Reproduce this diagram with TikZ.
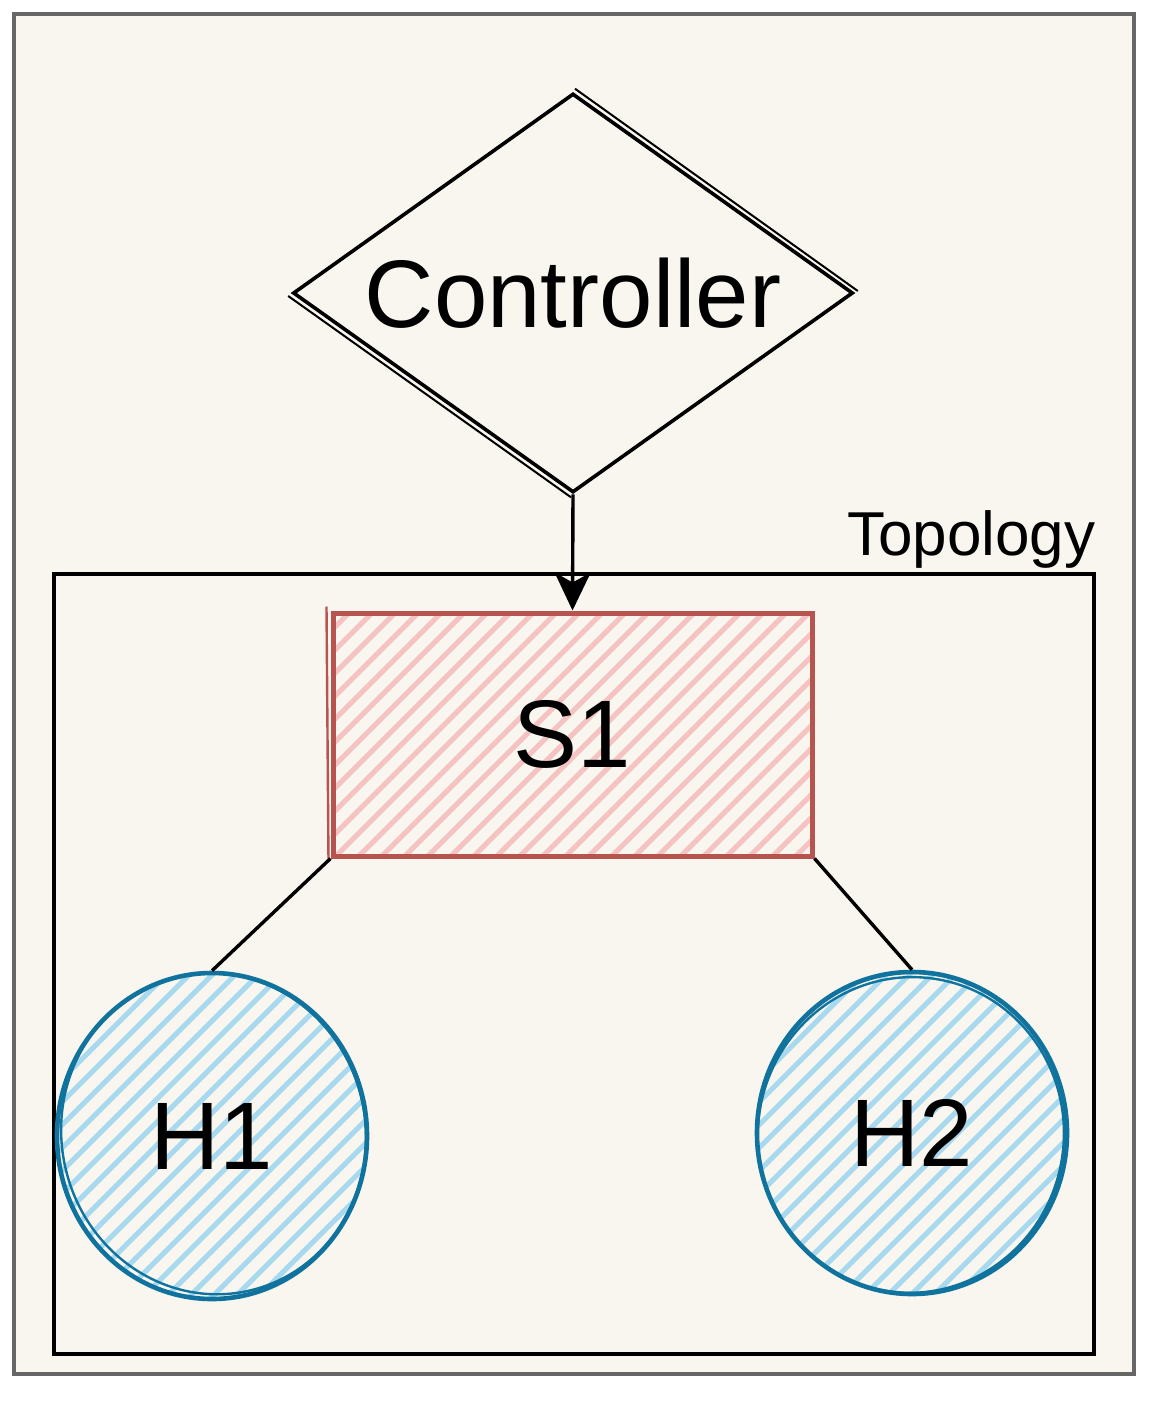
\documentclass[tikz,border=0pt]{standalone}
\usepackage{fontspec}
\setmainfont{Liberation Sans}
\usetikzlibrary{shapes.geometric,arrows.meta}
\definecolor{bgc}{HTML}{F8F6EE}
\definecolor{framec}{HTML}{666666}
\definecolor{redline}{HTML}{B85450}
\definecolor{redfill}{HTML}{F5C4C2}
\definecolor{blueline}{HTML}{10739E}
\definecolor{bluefill}{HTML}{A9D9EE}
\begin{document}
\begin{tikzpicture}[x=1pt,y=-1pt,
  bigtext/.style={font=\fontsize{96}{110}\selectfont},
  hatch/.style={path picture={
    \foreach \k in {-20,...,20}{
      \draw[#1,line width=5pt,line cap=round]
        ([xshift=\k*23pt-420pt,yshift=-420pt]path picture bounding box.center) -- ++(840pt,840pt);
    }}},
  framebox/.style={draw=framec,fill=bgc,line width=4pt,inner sep=0pt},
  topobox/.style={draw=black,line width=3.8pt,inner sep=0pt},
  ctrlbox/.style={diamond,draw=black,line width=3.6pt,aspect=1.4,inner sep=0pt,bigtext},
  switchbox/.style={rectangle,draw=redline,line width=5pt,hatch=redfill,inner sep=0pt,bigtext},
  hostbox/.style={ellipse,draw=blueline,line width=4.6pt,hatch=bluefill,inner sep=0pt,bigtext},
  link/.style={draw=black,line width=3.4pt},
  sketch/.style={line width=2pt}
]
\useasboundingbox (0,0) rectangle (1164,1408);
% outer frame
\node[framebox,minimum width=1120pt,minimum height=1360pt] (frame) at (574,694) {};
% topology container
\node[topobox,minimum width=1040pt,minimum height=780pt] (topo) at (574,964) {};
\node[anchor=base west,font=\fontsize{62}{70}\selectfont,inner sep=0pt] (topolabel) at (847,555) {Topology};
% controller
\node[ctrlbox,minimum width=560pt,minimum height=399pt] (ctrl) at (573,293) {Controller};
\draw[sketch] ([shift={(2,-3)}]ctrl.north) -- ([shift={(3,-2)}]ctrl.east);
\draw[sketch] ([shift={(-3,3)}]ctrl.west) -- ([shift={(-2,3)}]ctrl.south);
% switch
\node[switchbox,minimum width=479pt,minimum height=243pt] (s1) at (572.5,734.5) {S1};
\draw[redline,line width=2.4pt] ([shift={(-4,-4)}]s1.north west) -- ([shift={(-2,3)}]s1.south west);
% hosts
\node[hostbox,minimum width=310pt,minimum height=326pt] (h1) at (212,1136) {H1};
\node[hostbox,minimum width=310pt,minimum height=322pt] (h2) at (912,1133) {H2};
\draw[blueline,line width=2.4pt,rotate around={12:(h1.center)}] ([shift={(2,-2)}]h1.center) ellipse [x radius=152pt,y radius=161pt];
\draw[blueline,line width=2.4pt,rotate around={-10:(h2.center)}] ([shift={(-1,2)}]h2.center) ellipse [x radius=153pt,y radius=158pt];
% connectors
\draw[link,-{Stealth[length=38pt,width=36pt,inset=10pt]}] (ctrl.south) -- (s1.north);
\draw[link] (s1.south west) -- (h1.north);
\draw[link] (s1.south east) -- (h2.north);
\end{tikzpicture}
\end{document}
